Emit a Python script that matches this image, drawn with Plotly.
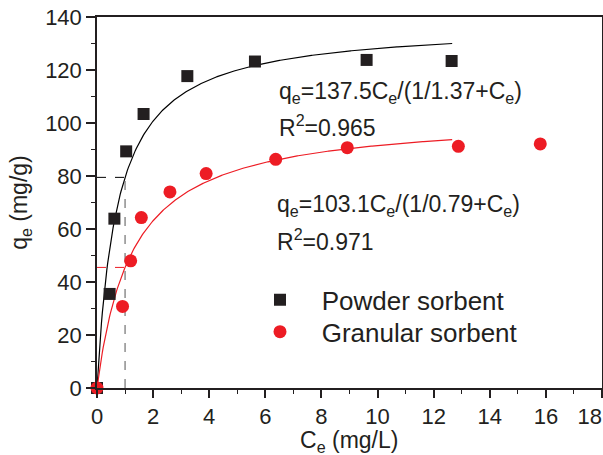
import numpy as np
import plotly.graph_objects as go

# Data
powder_ce = [0.0, 0.45, 0.62, 1.04, 1.66, 3.22, 5.63, 9.61, 12.64]
powder_qe = [0.0, 35.5, 63.9, 89.3, 103.4, 117.7, 123.2, 123.8, 123.4]
granular_ce = [0.0, 0.91, 1.2, 1.58, 2.6, 3.89, 6.37, 8.92, 12.88, 15.8]
granular_qe = [0.0, 30.8, 48.0, 64.3, 74.0, 80.9, 86.3, 90.7, 91.2, 92.1]

# Langmuir fit parameters (as printed on the chart)
powder_qmax, powder_k = 137.5, 1.37
granular_qmax, granular_k = 103.1, 0.79
fit_end = 12.66
ce_ref = 1.0

x_ticks = [0, 2, 4, 6, 8, 10, 12, 14, 16, 18]
x_ticklabels = ["0", "2", "4", "6", "8", "10", "12", "14", "16", "18\u00a0\u00a0\u00a0\u00a0"]
y_ticks = [0, 20, 40, 60, 80, 100, 120, 140]

def langmuir(c, qmax, k):
    c = np.asarray(c, dtype=float)
    return qmax * c / (1.0 / k + c)

cfit = np.linspace(0, fit_end, 400)

FONT = "Arial, Liberation Sans, sans-serif"
TXT = "#231f20"
RED = "#ed1c24"

# plot-area geometry in pixels (for placing text)
L, R, T, B = 97, 602, 17, 388.3
def px(xp):
    return (xp - L) / (R - L)
def py(yp):
    return (B - yp) / (B - T)

fig = go.Figure()

fig.add_trace(go.Scatter(x=cfit, y=langmuir(cfit, powder_qmax, powder_k), mode="lines",
                         line=dict(color="black", width=1.2), showlegend=False, hoverinfo="skip"))
fig.add_trace(go.Scatter(x=cfit, y=langmuir(cfit, granular_qmax, granular_k), mode="lines",
                         line=dict(color=RED, width=1.2), showlegend=False, hoverinfo="skip"))

q1_powder = float(langmuir(ce_ref, powder_qmax, powder_k))
q1_gran = float(langmuir(ce_ref, granular_qmax, granular_k))
# guide lines
fig.add_trace(go.Scatter(x=[0, ce_ref], y=[q1_powder, q1_powder], mode="lines",
                         line=dict(color="black", width=1, dash="dash"), showlegend=False, hoverinfo="skip"))
fig.add_trace(go.Scatter(x=[ce_ref, ce_ref], y=[0, q1_powder], mode="lines",
                         line=dict(color="#555555", width=1, dash="dash"), showlegend=False, hoverinfo="skip"))
fig.add_trace(go.Scatter(x=[0, ce_ref], y=[q1_gran, q1_gran], mode="lines",
                         line=dict(color=RED, width=1, dash="dash"), showlegend=False, hoverinfo="skip"))

fig.add_trace(go.Scatter(x=powder_ce, y=powder_qe, mode="markers",
                         name="\u00a0\u00a0\u00a0Powder sorbent", legend="legend",
                         marker=dict(symbol="square", size=12, color=TXT), cliponaxis=False))
fig.add_trace(go.Scatter(x=granular_ce, y=granular_qe, mode="markers",
                         name="\u00a0\u00a0\u00a0Granular sorbent", legend="legend2",
                         marker=dict(symbol="circle", size=13, color=RED), cliponaxis=False))

ann_font = dict(family=FONT, size=23, color=TXT)
fig.add_annotation(xref="paper", yref="paper", x=px(277), y=py(93),
                   xanchor="left", yanchor="middle", showarrow=False, font=ann_font,
                   text="q<sub>e</sub>=137.5C<sub>e</sub>/(1/1.37+C<sub>e</sub>)")
fig.add_annotation(xref="paper", yref="paper", x=px(277), y=py(126),
                   xanchor="left", yanchor="middle", showarrow=False, font=ann_font,
                   text="R<sup>2</sup>=0.965")
fig.add_annotation(xref="paper", yref="paper", x=px(275), y=py(206),
                   xanchor="left", yanchor="middle", showarrow=False, font=ann_font,
                   text="q<sub>e</sub>=103.1C<sub>e</sub>/(1/0.79+C<sub>e</sub>)")
fig.add_annotation(xref="paper", yref="paper", x=px(275), y=py(240),
                   xanchor="left", yanchor="middle", showarrow=False, font=ann_font,
                   text="R<sup>2</sup>=0.971")

# axis titles
title_font = dict(family=FONT, size=23, color=TXT)
fig.add_annotation(xref="paper", yref="paper", x=px(349), y=py(442),
                   xanchor="center", yanchor="middle", showarrow=False, font=title_font,
                   text="C<sub>e</sub> (mg/L)")
fig.add_annotation(xref="paper", yref="paper", x=px(21), y=py(203), textangle=-90,
                   xanchor="center", yanchor="middle", showarrow=False, font=title_font,
                   text="q<sub>e</sub> (mg/g)")

axis_common = dict(showgrid=False, zeroline=False, showline=True, linecolor="#231f20",
                   linewidth=1.5, mirror=True, ticks="outside", tickcolor="#231f20",
                   tickwidth=1.5, automargin=False,
                   tickfont=dict(family=FONT, size=22, color=TXT))

fig.update_xaxes(range=[0, 18], tickvals=x_ticks, ticktext=x_ticklabels, ticklen=8,
                 ticklabeloverflow="allow",
                 minor=dict(dtick=1, ticklen=4, ticks="outside", tickcolor="#231f20", tickwidth=1.2),
                 **axis_common)
fig.update_yaxes(range=[0, 140], tickvals=y_ticks, ticklen=9,
                 minor=dict(dtick=10, ticklen=4, ticks="outside", tickcolor="#231f20", tickwidth=1.2),
                 **axis_common)

leg_common = dict(xanchor="left", yanchor="middle", font=dict(family=FONT, size=26, color=TXT),
                  bgcolor="rgba(0,0,0,0)", itemsizing="trace")
fig.update_layout(
    width=603, height=455,
    margin=dict(l=L, r=603 - R, t=T, b=455 - B),
    plot_bgcolor="white", paper_bgcolor="white",
    legend=dict(x=px(260), y=py(300), **leg_common),
    legend2=dict(x=px(260), y=py(332), **leg_common),
)

fig.write_html("out.html")
